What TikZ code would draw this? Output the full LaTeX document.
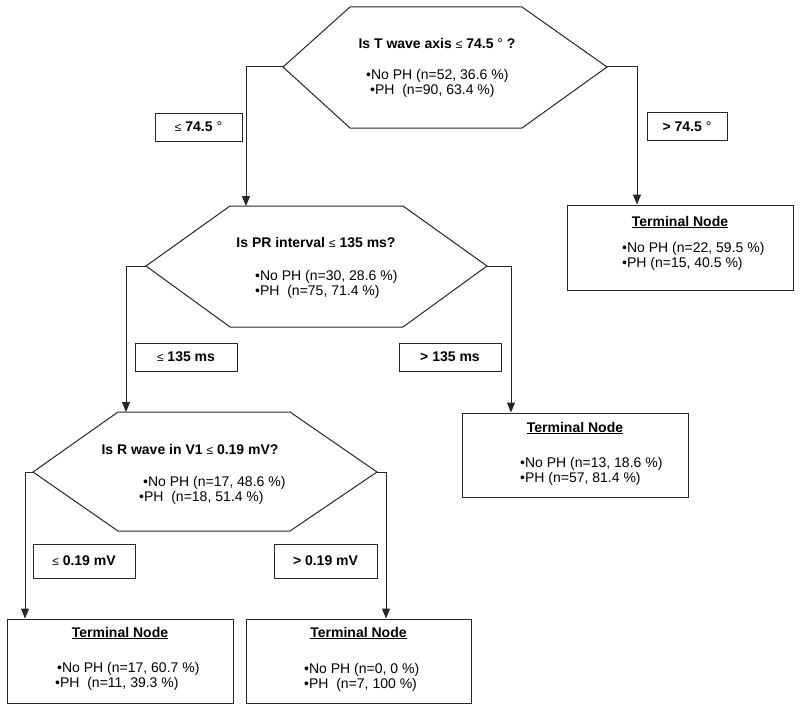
\documentclass[tikz,border=0pt]{standalone}
\usepackage{fontspec}
\setmainfont{Liberation Sans}
\usetikzlibrary{arrows.meta}
\newcommand\lesym{{\mdseries\fontsize{12}{12}\selectfont ≤}}
\newcommand\degsym{{\mdseries °}}
\begin{document}
\begin{tikzpicture}[x=1pt,y=-1pt,
  hexline/.style={draw=black!85, line width=1pt},
  lbl/.style={draw=black!85, line width=1pt, minimum height=28pt, inner sep=0pt, font=\fontsize{14}{15}\selectfont\bfseries},
  ttl/.style={font=\fontsize{14}{15}\selectfont\bfseries, inner sep=0pt},
  stats/.style={font=\fontsize{14}{15}\selectfont, align=left, anchor=west, inner sep=0pt},
  term/.style={draw=black!85, line width=1pt, inner sep=0pt},
  conn/.style={draw=black!85, line width=1pt, -{Triangle[width=8pt,length=10pt]}},
]
\useasboundingbox (0,0) rectangle (800,709);

% ---- Hexagon 1
\coordinate (h1a) at (350,7);
\coordinate (h1b) at (522,7);
\coordinate (h1r) at (607,67);
\coordinate (h1c) at (522,128);
\coordinate (h1d) at (350,128);
\coordinate (h1l) at (283,67);
\draw[hexline] (h1a) -- (h1b) -- (h1r) -- (h1c) -- (h1d) -- (h1l) -- cycle;
\node[ttl] (h1t) at (437,43) {Is T wave axis \lesym\ 74.5 \degsym\ ?};
\node[stats] (h1s) at (366,83.5) {•No PH (n=52, 36.6 \%)\\\hspace{4pt}•PH\ \ (n=90, 63.4 \%)};

% ---- Hexagon 2
\coordinate (h2a) at (230,206);
\coordinate (h2b) at (403,206);
\coordinate (h2r) at (487,266);
\coordinate (h2c) at (403,327);
\coordinate (h2d) at (230,327);
\coordinate (h2l) at (146,266);
\draw[hexline] (h2a) -- (h2b) -- (h2r) -- (h2c) -- (h2d) -- (h2l) -- cycle;
\node[ttl] (h2t) at (316,243) {Is PR interval \lesym\ 135 ms?};
\node[stats] (h2s) at (255,284) {•No PH (n=30, 28.6 \%)\\•PH\ \ (n=75, 71.4 \%)};

% ---- Hexagon 3
\coordinate (h3a) at (118,412);
\coordinate (h3b) at (290,412);
\coordinate (h3r) at (377,472);
\coordinate (h3c) at (290,531);
\coordinate (h3d) at (118,531);
\coordinate (h3l) at (33,472);
\draw[hexline] (h3a) -- (h3b) -- (h3r) -- (h3c) -- (h3d) -- (h3l) -- cycle;
\node[ttl] (h3t) at (190,449) {Is R wave in V1 \lesym\ 0.19 mV?};
\node[stats] (h3s) at (139,490) {\hspace{4pt}•No PH (n=17, 48.6 \%)\\•PH\ \ (n=18, 51.4 \%)};

% ---- Terminal nodes
\node[term, minimum width=226pt, minimum height=85pt] (t1) at (680,247.5) {};
\node[ttl] (t1t) at (680,222) {\underline{Terminal Node}};
\node[stats] (t1s) at (622,256) {•No PH (n=22, 59.5 \%)\\•PH (n=15, 40.5 \%)};

\node[term, minimum width=226pt, minimum height=84pt] (t2) at (575,455) {};
\node[ttl] (t2t) at (575,428) {\underline{Terminal Node}};
\node[stats] (t2s) at (520,471) {•No PH (n=13, 18.6 \%)\\•PH (n=57, 81.4 \%)};

\node[term, minimum width=226pt, minimum height=84pt] (t3) at (120,661) {};
\node[ttl] (t3t) at (120,633) {\underline{Terminal Node}};
\node[stats] (t3s) at (55,676) {\hspace{2pt}•No PH (n=17, 60.7 \%)\\•PH\ \ (n=11, 39.3 \%)};

\node[term, minimum width=225pt, minimum height=84pt] (t4) at (358.5,661) {};
\node[ttl] (t4t) at (358.5,633) {\underline{Terminal Node}};
\node[stats] (t4s) at (304,677) {•No PH (n=0, 0 \%)\\•PH\ \ (n=7, 100 \%)};

% ---- Elbow coordinates
\coordinate (e1l) at (246,67);
\coordinate (e1r) at (637,67);
\coordinate (e2l) at (126,266);
\coordinate (e2r) at (511,266);
\coordinate (e3l) at (25,472);
\coordinate (e3r) at (386,472);

% ---- Connectors
\draw[conn] (h1l) -- (e1l) -- (e1l |- h2a);
\draw[conn] (h1r) -- (e1r) -- (e1r |- t1.north);
\draw[conn] (h2l) -- (e2l) -- (e2l |- h3a);
\draw[conn] (h2r) -- (e2r) -- (e2r |- t2.north);
\draw[conn] (h3l) -- (e3l) -- (e3l |- t3.north);
\draw[conn] (h3r) -- (e3r) -- (e3r |- t4.north);

% ---- Branch labels
\node[lbl, minimum width=87pt] (b1) at (198.5,127) {\lesym\ 74.5 \degsym};
\node[lbl, minimum width=80pt] (b2) at (687,126.5) {> 74.5 \degsym};
\node[lbl, minimum width=102pt] (b3) at (186,357) {\lesym\ 135 ms};
\node[lbl, minimum width=102pt] (b4) at (450,357) {> 135 ms};
\node[lbl, minimum width=102pt, minimum height=34pt] (b5) at (84,561) {\lesym\ 0.19 mV};
\node[lbl, minimum width=103pt, minimum height=34pt] (b6) at (325.5,561) {> 0.19 mV};
\end{tikzpicture}
\end{document}
